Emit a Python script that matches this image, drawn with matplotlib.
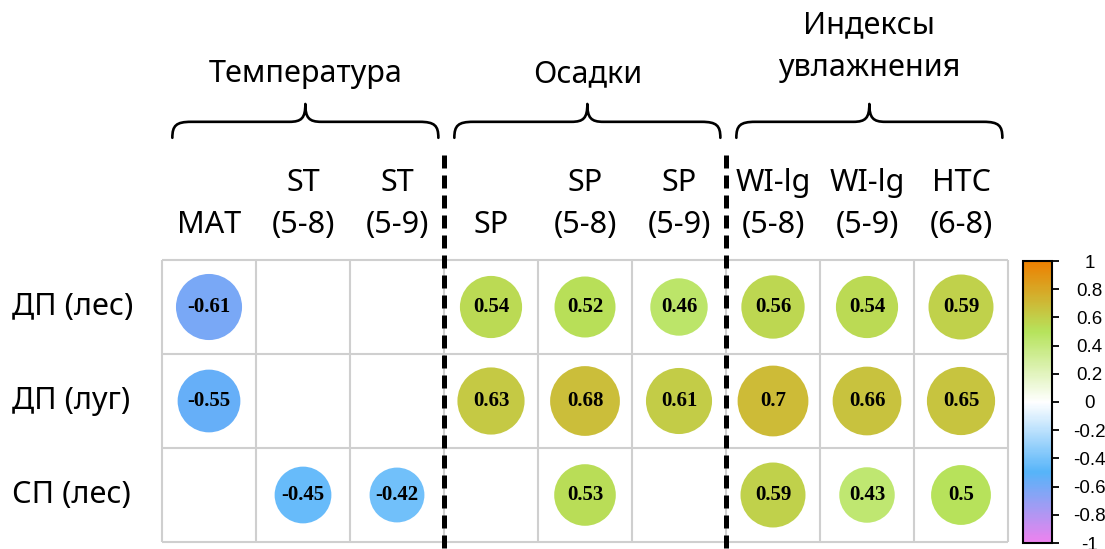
import numpy as np
import matplotlib
matplotlib.use("Agg")
import matplotlib.pyplot as plt
from matplotlib.patches import Circle, PathPatch
from matplotlib.path import Path
from matplotlib.colors import LinearSegmentedColormap, Normalize
from matplotlib.colorbar import ColorbarBase

# ---- data -------------------------------------------------------------
row_labels = ["ДП (лес)", "ДП (луг)", "СП (лес)"]
col_top = ["", "ST", "ST", "", "SP", "SP", "WI-lg", "WI-lg", "HTC"]
col_bottom = ["MAT", "(5-8)", "(5-9)", "SP", "(5-8)", "(5-9)",
              "(5-8)", "(5-9)", "(6-8)"]

nan = np.nan
row_dp_forest = [-0.61, nan, nan, 0.54, 0.52, 0.46, 0.56, 0.54, 0.59]
row_dp_meadow = [-0.55, nan, nan, 0.63, 0.68, 0.61, 0.70, 0.66, 0.65]
row_sp_forest = [nan, -0.45, -0.42, nan, 0.53, nan, 0.59, 0.43, 0.50]
corr = np.array([row_dp_forest, row_dp_meadow, row_sp_forest])

# groups: (title lines, first column, last column + 1)
groups = [
    (["Температура"], 0, 3),
    (["Осадки"], 3, 6),
    (["Индексы", "увлажнения"], 6, 9),
]

# palette stops for the correlation scale
cmap_values = [-1.0, -0.5, 0.0, 0.5, 1.0]
cmap_colors = ["#EE82EE", "#56B4F9", "#FFFFFF", "#B6E35C", "#EE7F00"]
cbar_ticks = [1, 0.8, 0.6, 0.4, 0.2, 0, -0.2, -0.4, -0.6, -0.8, -1]

# ---- styling ------------------------------------------------------------
W, H = 1105, 549
SANS = ["Noto Sans", "DejaVu Sans"]
LABEL_SIZE = 22

cmap = LinearSegmentedColormap.from_list(
    "corr", [((v + 1) / 2, c) for v, c in zip(cmap_values, cmap_colors)])
norm = Normalize(-1, 1)

fig = plt.figure(figsize=(W / 100, H / 100), dpi=100)
fig.patch.set_facecolor("white")

# grid axes: 9 x 3 square cells
gl, gr, gt, gb = 162, 1008, 260, 542
ax = fig.add_axes([gl / W, (H - gb) / H, (gr - gl) / W, (gb - gt) / H])
nrows, ncols = corr.shape
ax.set_xlim(0, ncols)
ax.set_ylim(nrows, 0)
ax.axis("off")

for x in range(ncols + 1):
    ax.plot([x, x], [0, nrows], color="#CFCFCF", lw=1.5, zorder=1,
            clip_on=False, solid_capstyle="butt")
for y in range(nrows + 1):
    ax.plot([0, ncols], [y, y], color="#CFCFCF", lw=1.5, zorder=1,
            clip_on=False, solid_capstyle="butt")

# circles with area proportional to |r|
for i in range(nrows):
    for j in range(ncols):
        r = corr[i, j]
        if np.isnan(r):
            continue
        ax.add_patch(Circle((j + 0.5, i + 0.5), 0.45 * np.sqrt(abs(r)),
                            facecolor=cmap(norm(r)), edgecolor="none",
                            zorder=2))
        ax.text(j + 0.5, i + 0.5, f"{r:g}", ha="center", va="center",
                fontsize=15, fontweight="bold", family="Liberation Serif",
                color="black", zorder=3)

# row labels
for i, lab in enumerate(row_labels):
    ax.text(-1.6, i + 0.5, lab, ha="left", va="center",
            fontsize=LABEL_SIZE, family=SANS, clip_on=False)

# column labels (two lines, bottom aligned)
for j in range(ncols):
    ax.text(j + 0.5, -0.29, col_bottom[j], ha="center", va="baseline",
            fontsize=LABEL_SIZE, family=SANS, clip_on=False)
    if col_top[j]:
        ax.text(j + 0.5, -0.73, col_top[j], ha="center", va="baseline",
                fontsize=LABEL_SIZE, family=SANS, clip_on=False)

# dashed separators between groups
for _, a, b in groups[1:]:
    ax.plot([a, a], [-1.12, nrows + 0.2], color="black", lw=3.6,
            linestyle=(0, (2.6, 1.4)), dash_capstyle="butt",
            clip_on=False, zorder=4)


def brace(x0, x1, y_end, y_mid, y_peak, r=0.2, rp=0.17):
    xm = (x0 + x1) / 2
    verts = [
        (x0, y_end), (x0, y_mid + 0.04), (x0 + 0.04, y_mid), (x0 + r, y_mid),
        (xm - rp, y_mid),
        (xm - 0.04, y_mid), (xm, y_mid - 0.04), (xm, y_peak),
        (xm, y_mid - 0.04), (xm + 0.04, y_mid), (xm + rp, y_mid),
        (x1 - r, y_mid),
        (x1 - 0.04, y_mid), (x1, y_mid + 0.04), (x1, y_end),
    ]
    codes = [Path.MOVETO, Path.CURVE4, Path.CURVE4, Path.CURVE4,
             Path.LINETO,
             Path.CURVE4, Path.CURVE4, Path.CURVE4,
             Path.CURVE4, Path.CURVE4, Path.CURVE4,
             Path.LINETO,
             Path.CURVE4, Path.CURVE4, Path.CURVE4]
    return PathPatch(Path(verts, codes), facecolor="none",
                     edgecolor="black", lw=1.9, clip_on=False,
                     capstyle="round", joinstyle="round")


# group braces and titles
title_base = {1: -1.89, 2: -1.96}
for lines, a, b in groups:
    ax.add_patch(brace(a + 0.11, b - 0.06, -1.30, -1.47, -1.66))
    xc = (a + 0.11 + b - 0.06) / 2
    base = title_base[len(lines)]
    for k, line in enumerate(reversed(lines)):
        ax.text(xc, base - 0.447 * k, line, ha="center", va="baseline",
                fontsize=LABEL_SIZE, family=SANS, clip_on=False)

# colour bar
cl, cr, ct, cb = 1023, 1052, 261, 543
cax = fig.add_axes([cl / W, (H - cb) / H, (cr - cl) / W, (cb - ct) / H])
cbar = ColorbarBase(cax, cmap=cmap, norm=norm, orientation="vertical",
                    ticks=cbar_ticks)
cbar.outline.set_linewidth(1.5)
cbar.ax.yaxis.set_ticks_position("right")
cbar.ax.tick_params(length=5, width=1.3, pad=22, labelsize=13.5)
cbar.ax.set_yticklabels([f"{t:g}" for t in cbar_ticks],
                        family="Liberation Sans")
for t in cbar.ax.get_yticklabels():
    t.set_horizontalalignment("center")

fig.savefig("out.png", dpi=100)
